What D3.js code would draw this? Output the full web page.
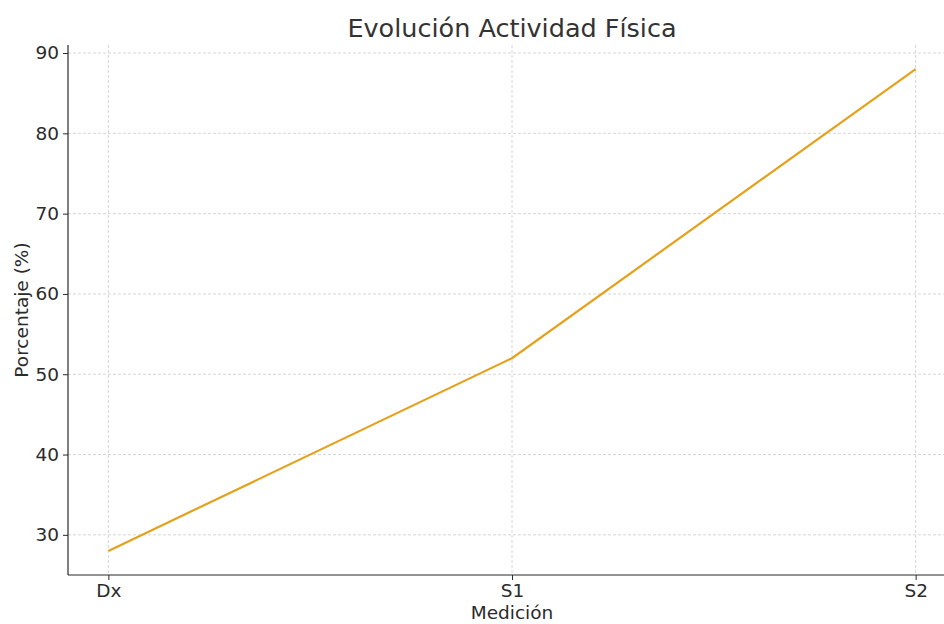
<!DOCTYPE html>
<html><head><meta charset="utf-8">
<script src="https://cdn.jsdelivr.net/npm/d3@7"></script>
<style>body{margin:0;background:#fff}svg{display:block}text{font-family:"DejaVu Sans",sans-serif}</style>
</head><body><svg id="c" width="944" height="624"></svg>
<script>
const categories = ["Dx", "S1", "S2"];
const values = [28, 52, 88];
const yTicks = [30, 40, 50, 60, 70, 80, 90];

const svg = d3.select("#c");
const mLeft = 68, mRight = 956, mTop = 45, mBottom = 575;
const x = d3.scaleLinear().domain([-0.1, 2.1]).range([mLeft, mRight]);
const y = d3.scaleLinear().domain([25, 91]).range([mBottom, mTop]);
const col = "#E6A11A", txt = "#2b2b2b";

// grid
svg.append("g").selectAll("line").data(yTicks).join("line")
  .attr("x1", mLeft).attr("x2", mRight).attr("y1", d => y(d)).attr("y2", d => y(d))
  .attr("stroke", "#ccc").attr("stroke-width", 0.8).attr("stroke-dasharray", "3,2");
svg.append("g").selectAll("line").data(categories).join("line")
  .attr("x1", (d, i) => x(i)).attr("x2", (d, i) => x(i)).attr("y1", mTop).attr("y2", mBottom)
  .attr("stroke", "#ccc").attr("stroke-width", 0.8).attr("stroke-dasharray", "3,2");

// line
const line = d3.line().x((d, i) => x(i)).y(d => y(d));
svg.append("path").datum(values).attr("d", line).attr("fill", "none")
  .attr("stroke", col).attr("stroke-width", 2.2);

// axes
const ya = svg.append("g").attr("transform", `translate(${mLeft},0)`)
  .call(d3.axisLeft(y).tickValues(yTicks).tickSize(5).tickPadding(4));
const xa = svg.append("g").attr("transform", `translate(0,${mBottom})`)
  .call(d3.axisBottom(x).tickValues([0, 1, 2]).tickFormat(i => categories[i]).tickSize(5).tickPadding(4));
[ya, xa].forEach(g => {
  g.selectAll("text").attr("font-size", 18.5).attr("fill", txt).style("font-family", "DejaVu Sans");
  g.selectAll("line").attr("stroke", txt).attr("stroke-width", 1);
  g.select(".domain").attr("stroke", txt).attr("stroke-width", 1.2);
});
xa.select(".domain").attr("d", `M${mLeft},0H${mRight}`);
ya.select(".domain").attr("d", `M0,${mTop}V${mBottom}`);

svg.append("text").attr("x", 512).attr("y", 37).attr("text-anchor", "middle")
  .attr("font-size", 25.5).attr("fill", "#333").text("Evolución Actividad Física");
svg.append("text").attr("x", 512).attr("y", 619).attr("text-anchor", "middle")
  .attr("font-size", 18.5).attr("fill", txt).text("Medición");
svg.append("text").attr("transform", "translate(28,310) rotate(-90)").attr("text-anchor", "middle")
  .attr("font-size", 18.5).attr("fill", txt).text("Porcentaje (%)");
</script></body></html>
